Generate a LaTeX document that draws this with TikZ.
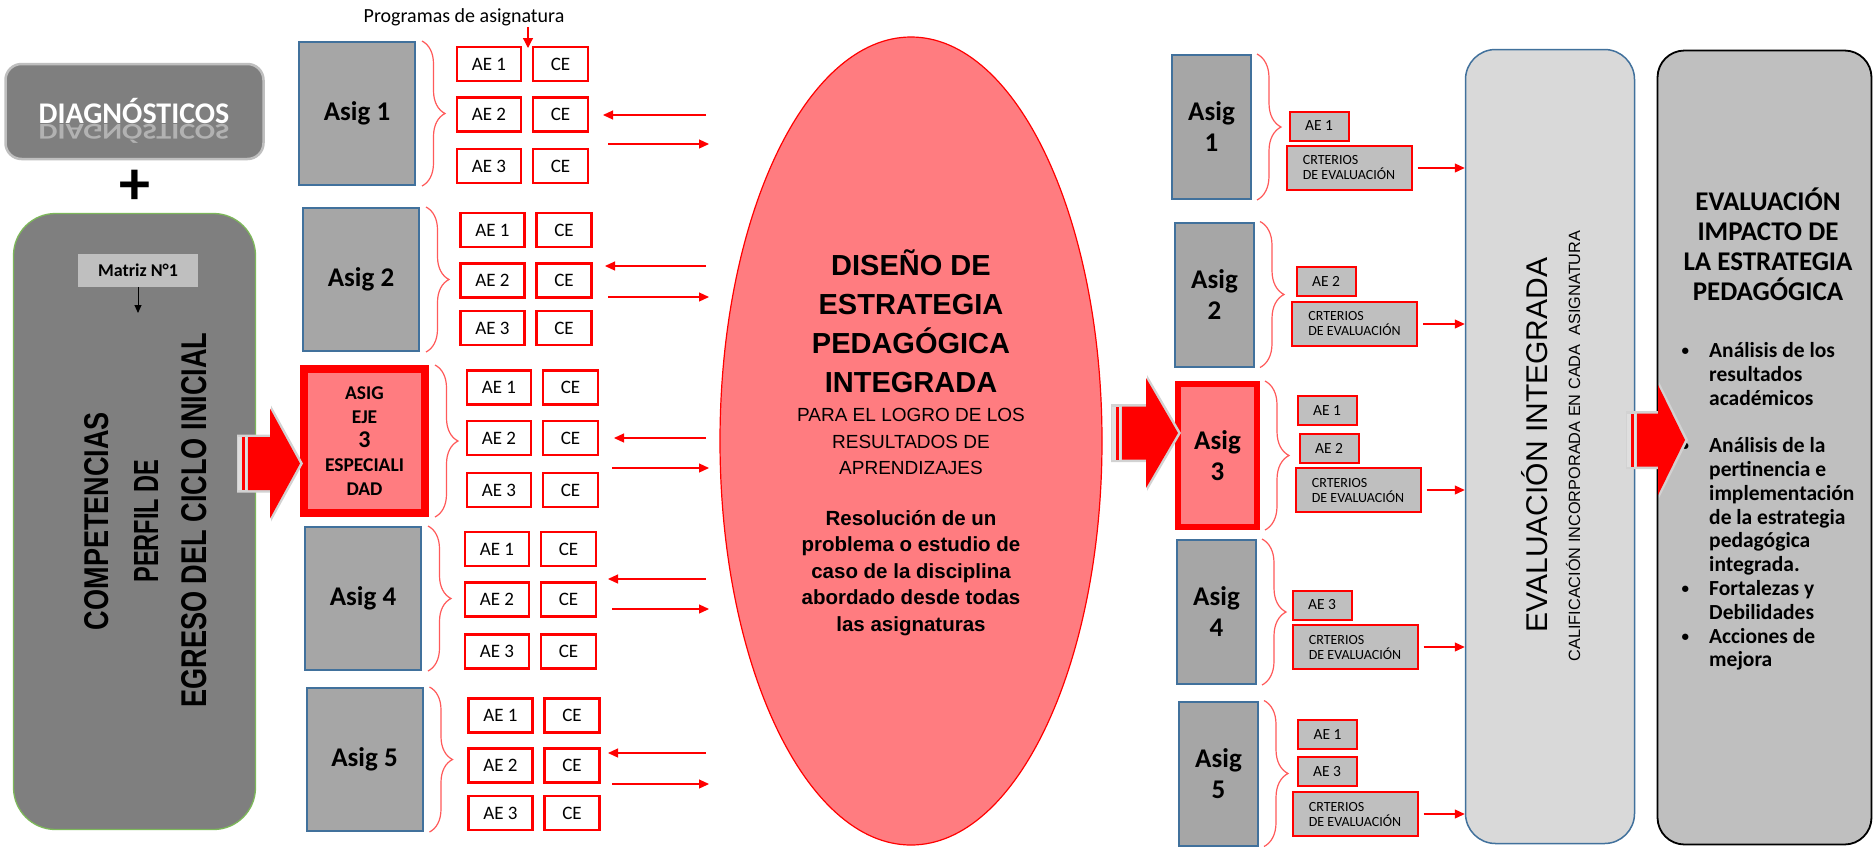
\documentclass[tikz,border=0pt]{standalone}
\usepackage{fontspec}
\usepackage{graphicx}
\setmainfont{Carlito}
\newfontfamily\gothic{Liberation Sans}
\usetikzlibrary{arrows.meta,shapes.geometric,decorations.pathreplacing}

\definecolor{salmon}{HTML}{FF7C80}
\definecolor{asiggray}{HTML}{A6A6A6}
\definecolor{asigblue}{HTML}{41719C}
\definecolor{boxgray}{HTML}{BFBFBF}
\definecolor{diaggray}{HTML}{7F7F7F}
\definecolor{evalgray}{HTML}{D9D9D9}
\definecolor{bracered}{HTML}{FF5A5A}
\definecolor{perfilgreen}{HTML}{7DB85A}

\newcommand{\impbullet}{\llap{\raisebox{2pt}{\fontsize{15}{15}\selectfont\textbullet}\hspace{20pt}}}

\begin{document}
\begin{tikzpicture}[x=1pt, y=-1pt,
    asig/.style={draw=asigblue, line width=2pt, fill=asiggray, minimum width=116pt, minimum height=143pt, inner sep=0pt, align=center, font=\fontsize{27}{31}\selectfont\bfseries},
    asigeje/.style={asig, draw=red, line width=8pt, fill=salmon, minimum width=121pt, minimum height=144pt, font=\fontsize{19.5}{24}\selectfont\bfseries},
    rasig/.style={asig, minimum width=79pt, minimum height=144pt},
    rasigeje/.style={asig, draw=red, line width=6pt, fill=salmon, minimum width=79pt, minimum height=143pt},
    aebox/.style={draw=red, line width=2.2pt, fill=white, minimum width=64pt, minimum height=34pt, inner sep=0pt, font=\fontsize{19}{19}\selectfont},
    cebox/.style={aebox, minimum width=55pt},
    raebox/.style={draw=red, line width=2pt, fill=boxgray, minimum width=59pt, minimum height=29pt, inner sep=0pt, font=\fontsize{15.5}{15.5}\selectfont},
    crtbox/.style={raebox, minimum width=125pt, minimum height=44pt, align=left, font=\fontsize{14}{15}\selectfont},
    bracestyle/.style={draw=bracered, line width=1.2pt, decorate, decoration={brace, amplitude=23pt}},
    rbrace/.style={bracestyle, decoration={brace, amplitude=24pt}},
    redarr/.style={red, line width=1.2pt, -{Triangle[length=10pt, width=9pt]}},
    rotlabel/.style={rotate=90, inner sep=0pt}
]

    \useasboundingbox (0,0) rectangle (1874,847);
    \fill[white] (0,0) rectangle (1874,847);

    % Diagnosticos box with its reflected title
    \node[draw=boxgray, line width=2.5pt, fill=diaggray, rounded corners=16pt, minimum width=258pt, minimum height=95pt] (diag) at (134.5,111.5) {};
    \node[anchor=base, white, inner sep=0pt, font=\fontsize{30}{30}\selectfont\bfseries] (diagtxt) at (134,123) {DIAGNÓSTICOS};
    \node[anchor=base, white, opacity=0.4, inner sep=0pt, font=\fontsize{30}{30}\selectfont\bfseries] (diagrefl) at (134,124.5) {\scalebox{1}[-0.75]{DIAGNÓSTICOS}};
    \node[inner sep=0pt, font=\fontsize{62}{62}\selectfont\bfseries] (plus) at (134.5,187) {+};

    % Perfil de egreso box
    \node[draw=perfilgreen, line width=1.3pt, fill=diaggray, rounded corners=42pt, minimum width=242pt, minimum height=616pt] (perfil) at (134.5,521.5) {};
    \node[fill=boxgray, minimum width=120pt, minimum height=33pt, inner sep=0pt, font=\fontsize{18}{18}\selectfont\bfseries] (matriz) at (138,270.5) {Matriz N°1};
    \coordinate (matriztip) at (138,313);
    \draw[line width=1pt, -{Triangle[length=8pt, width=7pt]}] (matriz.south) -- (matriztip);
    \node[rotlabel] (comp) at (97,521) {\gothic\bfseries\resizebox{218pt}{24pt}{COMPETENCIAS}};
    \node[rotlabel] (perfilde) at (146,521) {\gothic\bfseries\resizebox{123pt}{24pt}{PERFIL DE}};
    \node[rotlabel] (egreso) at (194,520) {\gothic\bfseries\resizebox{375pt}{25pt}{EGRESO DEL CICLO INICIAL}};

    % Programas de asignatura
    \node[inner sep=1pt, font=\fontsize{20}{20}\selectfont] (prog) at (464,17) {Programas de asignatura};
    \coordinate (progtip) at (528,48);
    \draw[red, line width=1.2pt, -{Triangle[length=10pt, width=10pt]}] (prog.south -| progtip) -- (progtip);

    % Left asignaturas
    \node[asig] (asig1) at (357,113.5) {Asig 1};
    \node[asig] (asig2) at (361,279.5) {Asig 2};
    \node[asigeje] (asig3) at (364.5,441) {ASIG\\EJE\\{\fontsize{24}{26}\selectfont 3}\\ESPECIALI\\DAD};
    \node[asig] (asig4) at (363,598.5) {Asig 4};
    \node[asig] (asig5) at (364.5,759.5) {Asig 5};

    % AE / CE rows, braces and arrows to the ellipse
    \foreach \g/\dx/\ra/\rb/\rc/\ya/\yb/\xl/\xr in {1/0/64/114.5/166/115/144/603/608,
        2/3.5/230/280.5/328/266/297/605/608, 3/10/387.5/438/490/438/468/614/612,
        4/8/549/599.5/651.5/579/609/608/612, 5/11.5/715.5/765.5/813/753/784/608/612} {
        \foreach \r/\yy in {1/\ra,2/\rb,3/\rc} {
            \node[aebox] (ae\g-\r) at (489+\dx,\yy) {AE \r};
            \node[cebox] (ce\g-\r) at (560.5+\dx,\yy) {CE};
        }
        \draw[bracestyle] ([xshift=6pt]asig\g.north east) -- ([xshift=6pt]asig\g.south east);
        \coordinate (ls\g) at (706,\ya);
        \coordinate (le\g) at (\xl,\ya);
        \coordinate (rs\g) at (\xr,\yb);
        \coordinate (re\g) at (709,\yb);
        \draw[redarr] (ls\g) -- (le\g);
        \draw[redarr] (rs\g) -- (re\g);
    }

    % Central ellipse
    \node[ellipse, draw=red, line width=1.2pt, fill=salmon, minimum width=382pt, minimum height=808pt, inner sep=0pt] (ell) at (911,441) {};
    \node[align=center, inner sep=0pt, font=\gothic\fontsize{29}{39}\selectfont\bfseries] (title) at (911,321) {DISEÑO DE\\ESTRATEGIA\\PEDAGÓGICA\\INTEGRADA};
    \node[align=center, inner sep=0pt, font=\gothic\fontsize{19}{26.5}\selectfont] (logro) at (911,441.5) {PARA EL LOGRO DE LOS\\RESULTADOS DE\\APRENDIZAJES};
    \node[align=center, inner sep=0pt, font=\gothic\fontsize{20.5}{26.5}\selectfont\bfseries] (resol) at (911,573) {Resolución de un\\problema o estudio de\\caso de la disciplina\\abordado desde todas\\las asignaturas};

    % Evaluacion integrada and impacto boxes
    \node[draw=asigblue, line width=1.5pt, fill=evalgray, rounded corners=30pt, minimum width=169pt, minimum height=794pt] (eval) at (1550,446.5) {};
    \node[rotlabel, font=\gothic\fontsize{30}{30}\selectfont] (evaltxt) at (1535,445) {EVALUACIÓN INTEGRADA};
    \node[rotlabel, font=\gothic\fontsize{16.3}{16.3}\selectfont] (califtxt) at (1573,446) {CALIFICACIÓN INCORPORADA EN CADA~~ASIGNATURA};
    \node[draw=black, line width=1.8pt, fill=boxgray, rounded corners=27pt, minimum width=214pt, minimum height=794pt] (impact) at (1764.5,447.5) {};
    \node[align=center, inner sep=0pt, font=\fontsize{27}{30}\selectfont\bfseries] (imptitle) at (1768,244) {EVALUACIÓN\\IMPACTO DE\\LA ESTRATEGIA\\PEDAGÓGICA};
    \node[anchor=west, align=left, inner sep=0pt, font=\fontsize{21.5}{23.8}\selectfont\bfseries] (implist) at (1709,506.5) {\impbullet Análisis de los\\resultados\\académicos\\[23.8pt]\impbullet Análisis de la\\pertinencia e\\implementación\\de la estrategia\\pedagógica\\integrada.\\\impbullet Fortalezas y\\Debilidades\\\impbullet Acciones de\\mejora};

    % Right asignaturas
    \node[rasig] (rasig1) at (1211.5,127) {Asig\\1};
    \node[rasig] (rasig2) at (1214.5,294.5) {Asig\\2};
    \node[rasigeje] (rasig3) at (1217.5,455.5) {Asig\\3};
    \node[rasig] (rasig4) at (1216.5,612) {Asig\\4};
    \node[rasig] (rasig5) at (1218.5,773.5) {Asig\\5};
    \foreach \g in {1,...,5}
        \draw[rbrace] ([xshift=5pt]rasig\g.north east) -- ([xshift=5pt]rasig\g.south east);

    % Right AE boxes
    \node[raebox] (rae1-1) at (1319,126) {AE 1};
    \node[raebox] (rae2-2) at (1326,281.5) {AE 2};
    \node[raebox] (rae3-1) at (1327,410.5) {AE 1};
    \node[raebox] (rae3-2) at (1329,448) {AE 2};
    \node[raebox] (rae4-3) at (1322,605) {AE 3};
    \node[raebox] (rae5-1) at (1327.5,734) {AE 1};
    \node[raebox] (rae5-3) at (1327,771.5) {AE 3};

    % Criterios boxes with arrows to evaluacion integrada
    \foreach \g/\cx/\cy in {1/1349/168, 2/1354.5/324, 3/1358/490, 4/1355/647, 5/1355/814} {
        \node[crtbox] (crt\g) at (\cx,\cy) {CRTERIOS\\DE EVALUACIÓN};
        \draw[redarr] ([xshift=5pt]crt\g.east) -- (crt\g.east -| eval.west);
    }

    % Big block arrows
    \foreach \xa/\xh/\xt/\yc in {238/270/300/463.5, 1112/1146/1178/433, 1627/1658/1685/440} {
        \fill[gray!35] (\xa-1,\yc-29) -- (\xh+1,\yc-29) -- (\xh+1,\yc-58) -- (\xt+3,\yc) -- (\xh+1,\yc+58) -- (\xh+1,\yc+29) -- (\xa-1,\yc+29) -- cycle;
        \fill[red] (\xa+10,\yc-26.5) -- (\xh,\yc-26.5) -- (\xh,\yc-55) -- (\xt,\yc) -- (\xh,\yc+55) -- (\xh,\yc+26.5) -- (\xa+10,\yc+26.5) -- cycle;
        \fill[gray!25] (\xa,\yc-26.5) rectangle (\xa+9,\yc+26.5);
        \fill[red] (\xa+4,\yc-26.5) rectangle (\xa+6.5,\yc+26.5);
    }

\end{tikzpicture}
\end{document}
